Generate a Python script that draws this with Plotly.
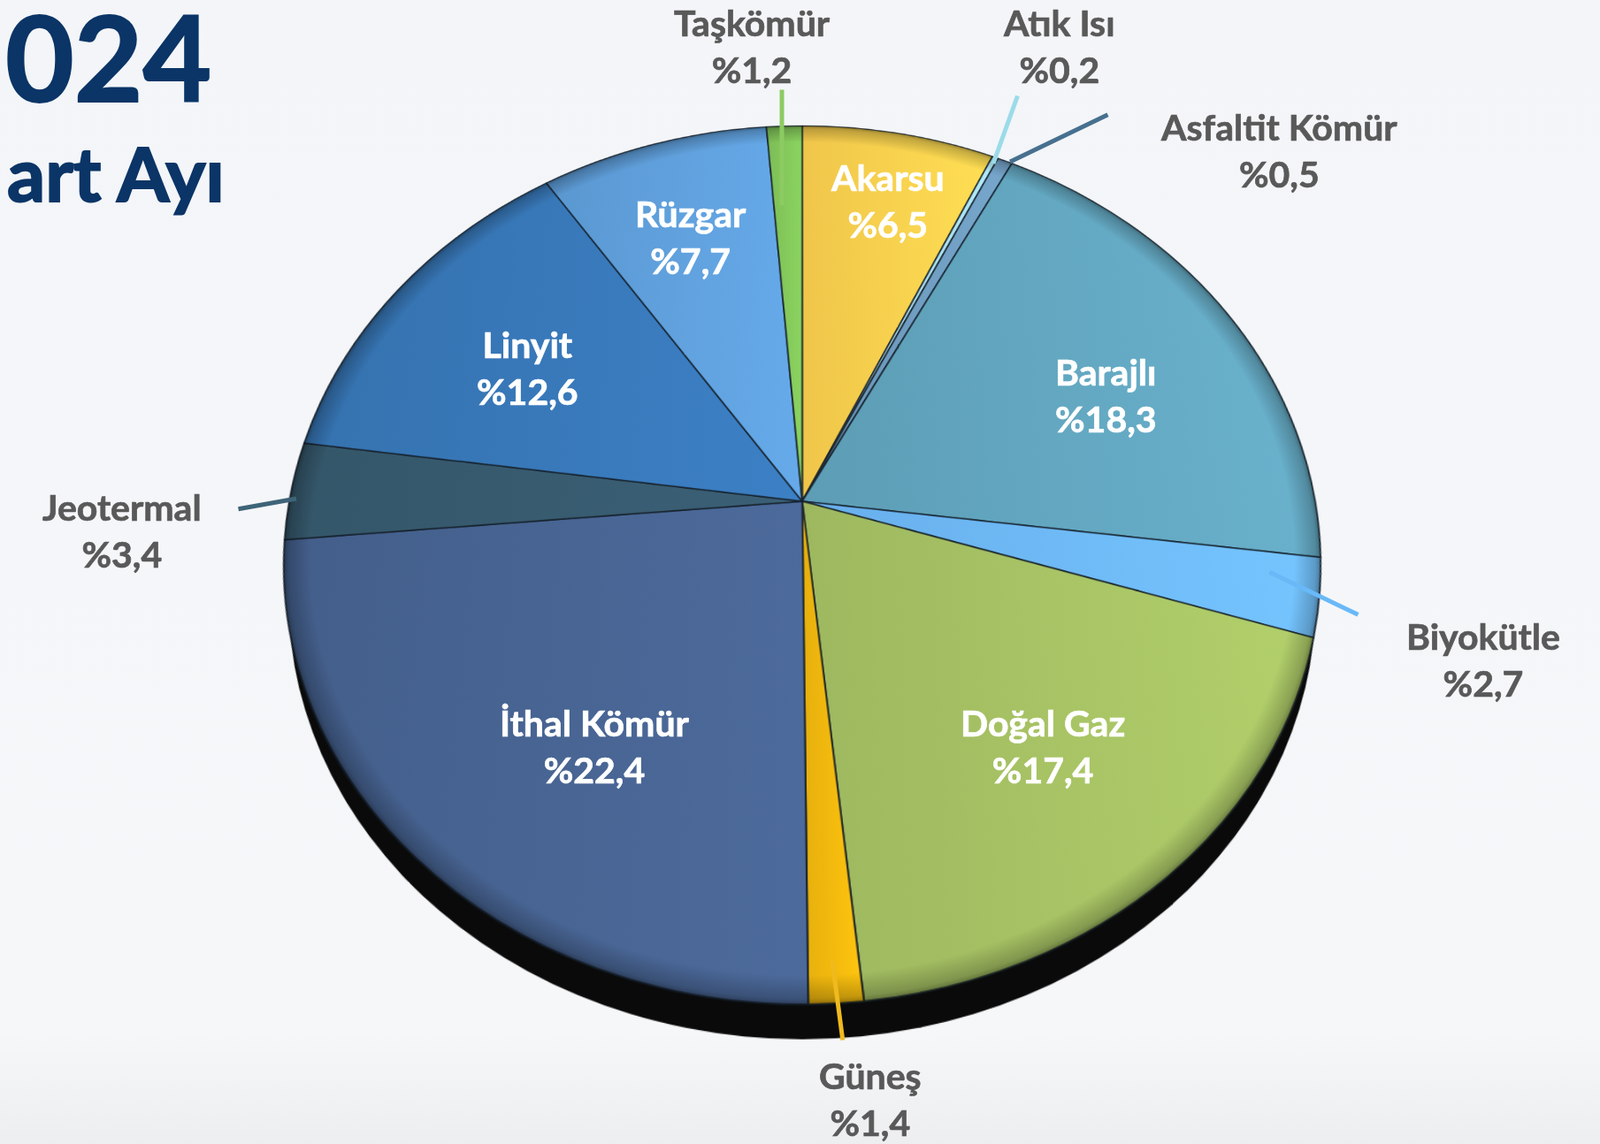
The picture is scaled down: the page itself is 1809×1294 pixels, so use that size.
import plotly.graph_objects as go

categories = ["Akarsu", "Atık Isı", "Asfaltit Kömür", "Barajlı", "Biyokütle", "Doğal Gaz", "Güneş",
              "İthal Kömür", "Jeotermal", "Linyit", "Rüzgar", "Taşkömür"]
shares = [6.5, 0.2, 0.5, 18.3, 2.7, 17.4, 1.4, 22.4, 3.4, 12.6, 7.7, 1.2]
colors = ["#fdd04e", "#a5dcea", "#6f9cc0", "#62a5bf", "#6db8f8", "#a6c264", "#f2b80e",
          "#476391", "#375a6e", "#3878b8", "#5f9fdb", "#82c65a"]
year_text = "024"
month_text = "art Ayı"

# label placement in page pixels: centre x, centre y, colour
label_pos = {
    "Akarsu": (1003, 227, "white"), "Atık Isı": (1197, 52, "#595959"),
    "Asfaltit Kömür": (1446, 170, "#595959"), "Barajlı": (1250, 447, "white"),
    "Biyokütle": (1677, 746, "#595959"), "Doğal Gaz": (1179, 844, "white"),
    "Güneş": (984, 1243, "#595959"), "İthal Kömür": (672, 844, "white"),
    "Jeotermal": (138, 600, "#595959"), "Linyit": (596, 416, "white"),
    "Rüzgar": (781, 268, "white"), "Taşkömür": (850, 52, "#595959"),
}
# leader lines in page pixels: outer x, y, inner x, y, colour
leaders = [
    (1151, 107, 1123, 185, "#9bdbe8"), (1254, 129, 1142, 183, "#47708f"),
    (1537, 696, 1435, 647, "#69b9f8"), (953, 1178, 941, 1087, "#f0ba1e"),
    (268, 576, 335, 564, "#3e6478"), (884, 100, 884, 232, "#8ccb62"),
]

W, H = 1809, 1294
R = 580
CX, CY = W / 2, H / 2
SHADOW_INSET = 12
SHADOW_SHIFT = 46


def px(x):
    return x / W


def py(y):
    return 1 - y / H


fig = go.Figure(go.Pie(
    labels=categories, values=shares, sort=False, direction="clockwise", rotation=0,
    marker=dict(colors=colors, line=dict(color="rgba(20,30,40,0.8)", width=2)),
    textinfo="none", hoverinfo="label+percent", showlegend=False,
    domain=dict(x=[px(CX - R), px(CX + R)], y=[py(CY + R), py(CY - R)]),
))

annotations = []
for c, v in zip(categories, shares):
    x, y, col = label_pos[c]
    annotations.append(dict(
        text=f"{c}<br>%{str(v).replace('.', ',')}", x=px(x), y=py(y), xref="paper", yref="paper",
        xanchor="center", yanchor="middle", showarrow=False, align="center",
        font=dict(family="Lato", size=41, color=col, weight="bold"),
    ))
for x0, y0, x1, y1, col in leaders:
    annotations.append(dict(
        text="", x=px(x1), y=py(y1), xref="paper", yref="paper",
        ax=x0 - x1, ay=y0 - y1, axref="pixel", ayref="pixel",
        showarrow=True, arrowhead=0, arrowwidth=5, arrowcolor=col,
    ))
annotations.append(dict(text=year_text, x=px(4), y=py(64), xref="paper", yref="paper",
                        xanchor="left", yanchor="middle", showarrow=False,
                        font=dict(family="Lato", size=134, color="#0b3567", weight="bold")))
annotations.append(dict(text=month_text, x=px(6), y=py(195), xref="paper", yref="paper",
                        xanchor="left", yanchor="middle", showarrow=False,
                        font=dict(family="Lato", size=85, color="#0b3567", weight="bold")))

fig.update_layout(
    width=W, height=H, margin=dict(l=0, r=0, t=0, b=0),
    paper_bgcolor="rgba(0,0,0,0)", plot_bgcolor="rgba(0,0,0,0)",
    annotations=annotations,
    shapes=[dict(type="circle", xref="paper", yref="paper", layer="below",
                 x0=px(CX - R + SHADOW_INSET), x1=px(CX + R - SHADOW_INSET),
                 y0=py(CY + R - SHADOW_INSET + SHADOW_SHIFT), y1=py(CY - R + SHADOW_INSET + SHADOW_SHIFT),
                 fillcolor="#0a0a0a", line=dict(width=0))],
)

post = """
document.documentElement.style.margin='0';
document.body.style.margin='0';
document.body.style.overflow='hidden';
var cont=document.querySelector('.svg-container');
cont.style.background='linear-gradient(#f3f5f8,#f6f7f9 90%,#eceeef)';
document.querySelector('.plot-container').style.background='transparent';
var s=document.querySelector('.main-svg');
s.style.background='transparent';
var NS='http://www.w3.org/2000/svg';
var defs=document.createElementNS(NS,'defs');
s.insertBefore(defs,s.firstChild);
function stop(g,o,c,a){var e=document.createElementNS(NS,'stop');e.setAttribute('offset',o);e.setAttribute('stop-color',c);if(a!==undefined)e.setAttribute('stop-opacity',a);g.appendChild(e);}
function shade(c,f){var m=c.match(/[0-9.]+/g).map(Number);return 'rgb('+m.slice(0,3).map(function(v){return Math.min(255,Math.round(v*f));}).join(',')+')';}
document.querySelectorAll('.pielayer .slice path.surface').forEach(function(p,i){
  var c=p.style.fill;
  var g=document.createElementNS(NS,'linearGradient');
  g.id='slicegrad'+i;
  stop(g,'0%',shade(c,0.95));stop(g,'100%',shade(c,1.07));
  defs.appendChild(g);
  p.style.fill='url(#slicegrad'+i+')';
});
var r=document.createElementNS(NS,'radialGradient');
r.id='rimgrad';
stop(r,'95%','#000',0);stop(r,'99%','#000',0.22);stop(r,'100%','#000',0.4);
defs.appendChild(r);
var circ=document.createElementNS(NS,'circle');
circ.setAttribute('cx',904.5);circ.setAttribute('cy',647);circ.setAttribute('r',580);
circ.setAttribute('fill','url(#rimgrad)');circ.style.pointerEvents='none';
document.querySelector('.pielayer').appendChild(circ);
document.querySelectorAll('.annotation-text').forEach(function(t){
  t.style.stroke=t.style.fill;
  t.style.strokeWidth=(parseFloat(t.style.fontSize)>60?'2px':'0.7px');
});
s.style.transformOrigin='50% 50%';
s.style.transform='translate(2.5px,-80px) perspective(2173px) rotateX(33deg)';
"""
fig.write_html("out.html", config=dict(displayModeBar=False), post_script=post)
